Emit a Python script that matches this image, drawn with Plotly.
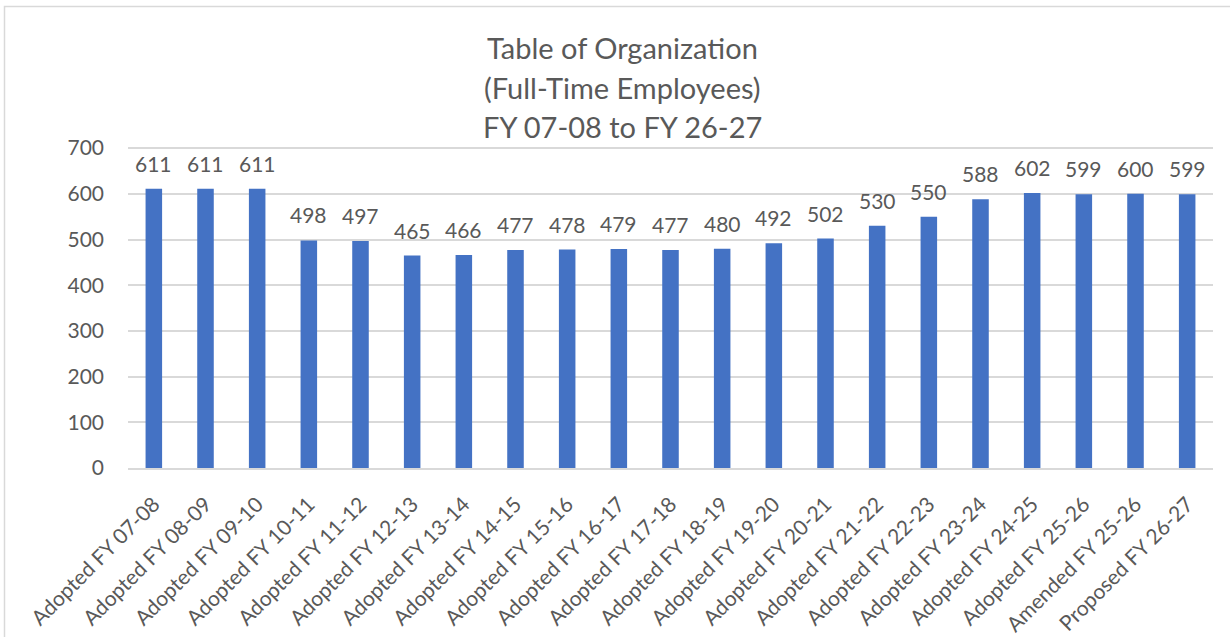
import plotly.graph_objects as go

categories = [
    "Adopted FY 07-08", "Adopted FY 08-09", "Adopted FY 09-10", "Adopted FY 10-11",
    "Adopted FY 11-12", "Adopted FY 12-13", "Adopted FY 13-14", "Adopted FY 14-15",
    "Adopted FY 15-16", "Adopted FY 16-17", "Adopted FY 17-18", "Adopted FY 18-19",
    "Adopted FY 19-20", "Adopted FY 20-21", "Adopted FY 21-22", "Adopted FY 22-23",
    "Adopted FY 23-24", "Adopted FY 24-25", "Adopted FY 25-26", "Amended FY 25-26",
    "Proposed FY 26-27",
]
employees = [611, 611, 611, 498, 497, 465, 466, 477, 478, 479, 477, 480,
             492, 502, 530, 550, 588, 602, 599, 600, 599]
y_ticks = [0, 100, 200, 300, 400, 500, 600, 700]
title_lines = ["Table of Organization", "(Full-Time Employees)", "FY 07-08 to FY 26-27"]

FONT = "Lato"
TXT = "#595959"
GRID = "#D9D9D9"

# plot area geometry (pixels)
YMAX = 720
PL, PR, PB = 128, 1213, 468
PT = round(PB - 320 / 700 * YMAX)
PW, PH = PR - PL, PB - PT

fig = go.Figure()
fig.add_trace(go.Bar(
    x=categories, y=employees,
    marker=dict(color="#4472C4", line=dict(width=0)),
    width=0.32,
    hoverinfo="x+y",
))

annotations = []
for c, v in zip(categories, employees):
    annotations.append(dict(
        x=c, y=v, xref="x", yref="y", text=str(v), showarrow=False,
        yanchor="bottom", xanchor="center", yshift=11,
        font=dict(family=FONT, size=21, color=TXT),
    ))

title_y = [47, 88, 126]
for line, py in zip(title_lines, title_y):
    annotations.append(dict(
        x=(622 - PL) / PW, y=(PB - py) / PH, xref="paper", yref="paper",
        text=line, showarrow=False, xanchor="center", yanchor="middle",
        font=dict(family=FONT, size=29, color=TXT),
    ))

shapes = [dict(
    type="rect", xref="paper", yref="paper",
    x0=(4.5 - PL) / PW, x1=(1240 - PL) / PW,
    y0=(PB - 650) / PH, y1=(PB - 6.5) / PH,
    line=dict(color=GRID, width=1.5), fillcolor="rgba(0,0,0,0)", layer="below",
)]
# top gridline at the last tick value
shapes.append(dict(
    type="line", xref="x domain", yref="y", x0=0, x1=1,
    y0=y_ticks[-1], y1=y_ticks[-1],
    line=dict(color=GRID, width=1.5), layer="above",
))

fig.update_layout(
    width=1230, height=637,
    margin=dict(l=PL, r=1230 - PR, t=PT, b=637 - PB, pad=0, autoexpand=False),
    paper_bgcolor="white", plot_bgcolor="white",
    showlegend=False,
    annotations=annotations,
    shapes=shapes,
    xaxis=dict(
        type="category", tickangle=-45, automargin=False,
        tickfont=dict(family=FONT, size=21, color=TXT),
        showgrid=False, showline=True, linecolor=GRID, linewidth=1.5,
        ticks="", ticklabelstandoff=14,
    ),
    yaxis=dict(
        range=[0, YMAX], tickvals=y_ticks, automargin=False,
        tickfont=dict(family=FONT, size=21, color=TXT),
        showgrid=True, gridcolor=GRID, gridwidth=1.5,
        zeroline=False, showline=False, ticks="",
        ticklabelstandoff=23,
    ),
)

fig.write_html(
    "out.html",
    config={"displayModeBar": False},
    post_script="document.body.style.margin='0';document.body.style.padding='0';",
)
